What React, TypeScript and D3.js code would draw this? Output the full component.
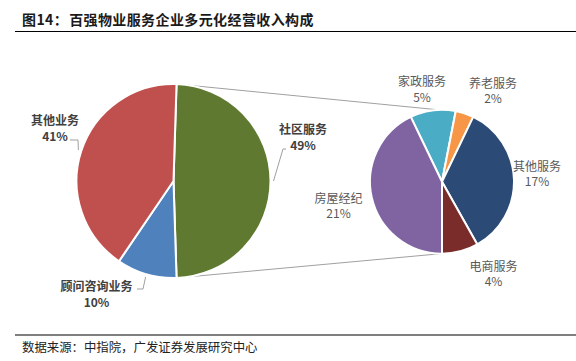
import React from "react";
import * as d3 from "d3";

const mainCategories = ["社区服务", "顾问咨询业务", "其他业务"];
const mainValues = [49, 10, 41];
const mainColors = ["#5f7a30", "#4f81bd", "#c0504d"];

const subCategories = ["家政服务", "养老服务", "其他服务", "电商服务", "房屋经纪"];
const subValues = [5, 2, 17, 4, 21];
const subColors = ["#4bacc6", "#f79646", "#2c4a76", "#7a2c2a", "#8064a2"];

const titleLead = "图14：";
const titleRest = "百强物业服务企业多元化经营收入构成";
const source = "数据来源：中指院，广发证券发展研究中心";

const W = 576;
const H = 361;
const FONT = "'Noto Sans CJK SC', 'Noto Sans', sans-serif";
const deg = Math.PI / 180;

// layout
const main = { cx: 173.5, cy: 181, r: 97 };
const sub = { cx: 442, cy: 181.7, r: 72 };
const mainLabelPos = [
  { x: 303, y: 130, hx: [286, 283] },
  { x: 96.5, y: 287, hx: [137, 143] },
  { x: 55, y: 121, hx: [70, 78] },
];
const subLabelPos = [
  { x: 422, y: 82 },
  { x: 493, y: 83.5 },
  { x: 537, y: 166.5 },
  { x: 493.5, y: 266.5 },
  { x: 338.5, y: 198.5 },
];

function polar(c: { cx: number; cy: number }, r: number, a: number) {
  return [c.cx + r * Math.sin(a), c.cy - r * Math.cos(a)];
}

export default function App() {
  const mainStart = (90 - (mainValues[0] / 100) * 180) * deg;
  const mainPie = d3
    .pie<number>()
    .sort(null)
    .value((d) => d)
    .startAngle(mainStart)
    .endAngle(mainStart + 2 * Math.PI);
  const mainArcs = mainPie(mainValues);
  const mainArc = d3.arc<d3.PieArcDatum<number>>().innerRadius(0).outerRadius(main.r);

  const subTotal = d3.sum(subValues);
  const subStart =
    Math.PI - (d3.sum(subValues.slice(0, 4)) / subTotal) * 2 * Math.PI;
  const subPie = d3
    .pie<number>()
    .sort(null)
    .value((d) => d)
    .startAngle(subStart)
    .endAngle(subStart + 2 * Math.PI);
  const subArcs = subPie(subValues);
  const subArc = d3.arc<d3.PieArcDatum<number>>().innerRadius(0).outerRadius(sub.r);

  // connectors
  const gA = mainArcs[0];
  const topFrom = polar(main, main.r, gA.startAngle);
  const botFrom = polar(main, main.r, gA.endAngle);
  const topTo = polar(sub, sub.r, -3 * deg);
  const botTo = polar(sub, sub.r, 181 * deg);

  return (
    <svg
      width={W}
      height={H}
      style={{ position: "absolute", left: 0, top: 0, background: "#fff" }}
      fontFamily={FONT}
    >
      <rect width={W} height={H} fill="#fff" />
      <text x={22} y={20} dy="0.35em" fontSize={14} fontWeight="bold" fill="#1a1a1a" letterSpacing={0.4}>
        <tspan>{titleLead}</tspan>
        <tspan dx={1}>{titleRest}</tspan>
      </text>
      <line x1={15} x2={576} y1={31.5} y2={31.5} stroke="#000" strokeWidth={1.2} />

      <line x1={topFrom[0]} y1={topFrom[1]} x2={topTo[0]} y2={topTo[1]} stroke="#a0a0a0" strokeWidth={1} />
      <line x1={botFrom[0]} y1={botFrom[1]} x2={botTo[0]} y2={botTo[1]} stroke="#a0a0a0" strokeWidth={1} />

      <g transform={`translate(${main.cx},${main.cy})`}>
        {mainArcs.map((a, i) => (
          <path key={i} d={mainArc(a) || ""} fill={mainColors[i]} stroke="#fff" strokeWidth={2} strokeLinejoin="round" />
        ))}
      </g>
      <g transform={`translate(${sub.cx},${sub.cy})`}>
        {subArcs.map((a, i) => (
          <path key={i} d={subArc(a) || ""} fill={subColors[i]} stroke="#fff" strokeWidth={2} strokeLinejoin="round" />
        ))}
      </g>

      {mainArcs.map((a, i) => {
        const mid = (a.startAngle + a.endAngle) / 2;
        const p = polar(main, main.r + 3, mid);
        const L = mainLabelPos[i];
        const pct = Math.round((a.value / d3.sum(mainValues)) * 100) + "%";
        const ly = i === 1 ? L.y + 2 : L.y + 19;
        return (
          <g key={i}>
            <polyline
              points={`${L.hx[0]},${ly} ${L.hx[1]},${ly} ${p[0]},${p[1]}`}
              fill="none"
              stroke="#a0a0a0"
              strokeWidth={1}
            />
            <text x={L.x} y={L.y} dy="0.35em" textAnchor="middle" fontSize={12} fontWeight="bold" fill="#404040">
              {mainCategories[i]}
            </text>
            <text x={L.x} y={L.y + 16} dy="0.35em" textAnchor="middle" fontSize={12} fontWeight="bold" fill="#404040">
              {pct}
            </text>
          </g>
        );
      })}

      {subArcs.map((a, i) => {
        const L = subLabelPos[i];
        return (
          <g key={i}>
            <text x={L.x} y={L.y} dy="0.35em" textAnchor="middle" fontSize={12} fill="#595959">
              {subCategories[i]}
            </text>
            <text x={L.x} y={L.y + 15.5} dy="0.35em" textAnchor="middle" fontSize={12} fill="#595959">
              {subValues[i] + "%"}
            </text>
          </g>
        );
      })}

      <line x1={15} x2={576} y1={335} y2={335} stroke="#000" strokeWidth={1.2} />
      <text x={22} y={348} dy="0.35em" fontSize={12.4} fill="#222">
        {source}
      </text>
    </svg>
  );
}
